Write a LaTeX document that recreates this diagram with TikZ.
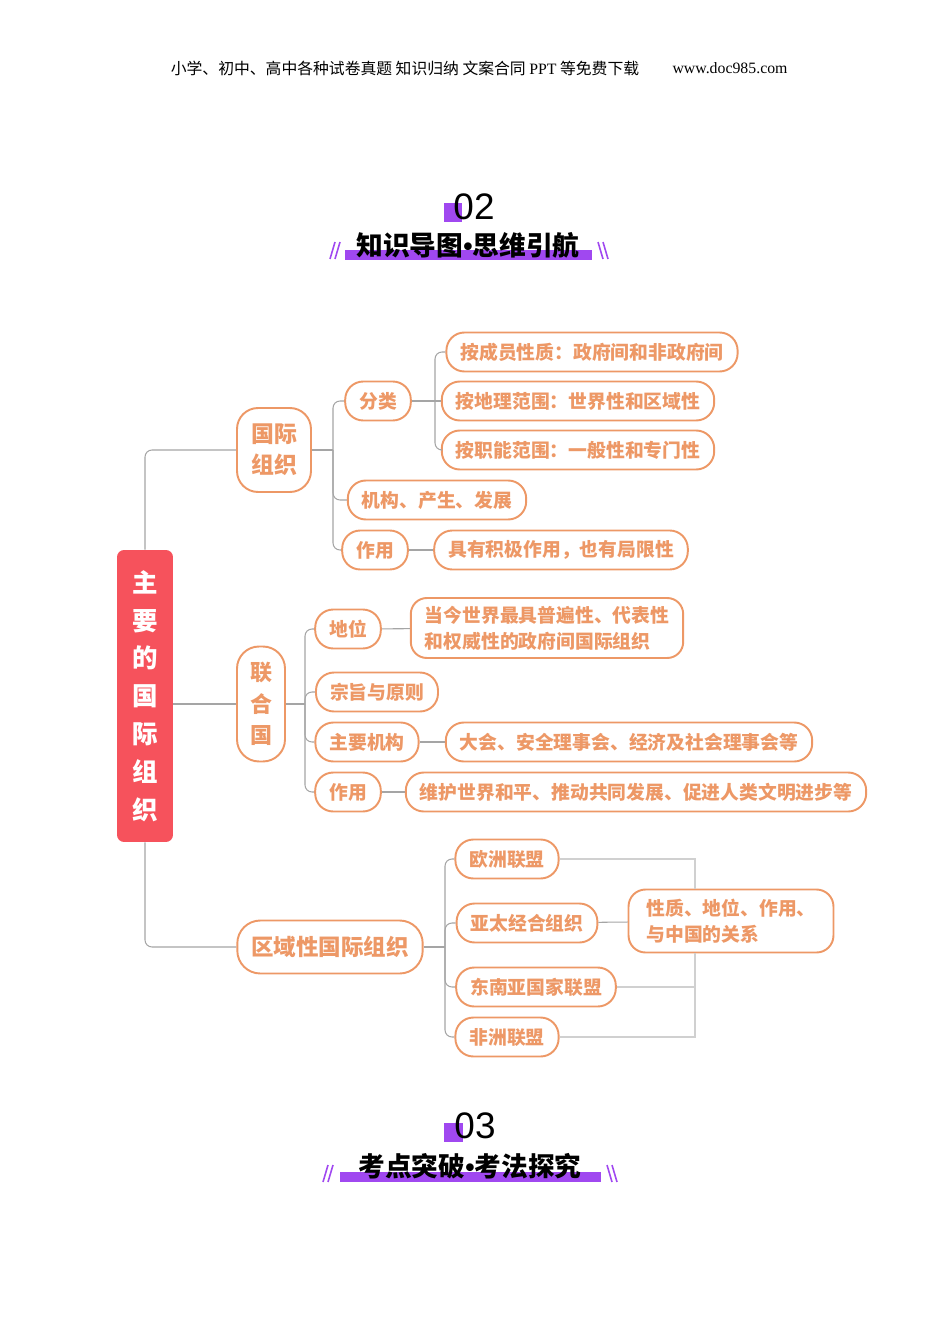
\documentclass[tikz,border=0pt]{standalone}
\usepackage{fontspec}
\setmainfont{Liberation Serif}
\newfontfamily\cjk{Noto Sans CJK SC}
\newfontfamily\digitfont{Liberation Sans}
\definecolor{mmorange}{RGB}{237,152,102}
\definecolor{mmred}{RGB}{246,82,92}
\definecolor{linkgray}{RGB}{165,165,165}
\definecolor{sumgray}{RGB}{208,208,208}
\definecolor{purp}{RGB}{160,72,240}
\tikzset{
  leaf/.style={draw=mmorange,line width=1.1pt,fill=white,text=mmorange,
    font=\cjk\bfseries\fontsize{10.7}{14.8}\selectfont,rounded corners=0.36cm,
    minimum height=0.78cm,inner xsep=0.28cm,inner ysep=0pt},
  branch/.style={leaf,font=\cjk\bfseries\fontsize{13}{17.6}\selectfont,align=center,
    inner sep=0pt,rounded corners=0.42cm},
  root/.style={fill=mmred,text=white,rounded corners=4pt,align=center,inner sep=0pt,
    minimum width=1.12cm,minimum height=5.84cm,
    font=\cjk\bfseries\fontsize{14.5}{21.5}\selectfont},
  link/.style={draw=linkgray,line width=0.6pt,rounded corners=4pt},
  sumlink/.style={draw=sumgray,line width=0.6pt},
  slash/.style={draw=purp,line width=0.9pt}
}
\begin{document}
\begin{tikzpicture}[x=0.02cm,y=-0.02cm]
\useasboundingbox (0,0) rectangle (950,1344);

% header line
\node[font=\cjk\fontsize{9}{9}\selectfont,inner sep=0] (hd) at (405,68)
  {小学、初中、高中各种试卷真题 知识归纳 文案合同 {\rmfamily PPT} 等免费下载};
\node[font=\rmfamily\fontsize{9}{9}\selectfont,inner sep=0] (url) at (730,68) {www.doc985.com};

% title 02
\fill[purp] (444,203) rectangle (462,222);
\node[font=\digitfont\fontsize{21}{21}\selectfont,inner sep=0] (n02) at (474,207) {02};
\fill[purp] (345,250) rectangle (592,260);
\node[font=\cjk\bfseries\fontsize{15.2}{15.2}\selectfont,inner sep=0] (t02) at (468,245)
  {知识导图{\digitfont\bfseries •}思维引航};
\draw[slash] (330,259) -- (335,242) (335,259) -- (340,242);
\draw[slash] (598,242) -- (603,259) (603,242) -- (608,259);

% root
\node[root] (root) at (145,696) {主\\要\\的\\国\\际\\组\\织};

% international organisations
\node[branch,minimum width=1.48cm,minimum height=1.68cm] (gj) at (274,450) {国际\\组织};
\node[leaf] (fl) at (378,401) {分类};
\node[leaf] (a1) at (592,352) {按成员性质：政府间和非政府间};
\node[leaf] (a2) at (578,401) {按地理范围：世界性和区域性};
\node[leaf] (a3) at (578,450) {按职能范围：一般性和专门性};
\node[leaf] (jg) at (437,500) {机构、产生、发展};
\node[leaf] (zy1) at (375,550) {作用};
\node[leaf] (jx1) at (561,550) {具有积极作用，也有局限性};

% united nations
\node[branch,font=\cjk\bfseries\fontsize{12.5}{18}\selectfont,
  minimum width=0.96cm,minimum height=2.3cm,rounded corners=0.44cm] (lhg) at (261,704) {联\\合\\国};
\node[leaf] (dw) at (348,629) {地位};
\node[leaf,align=left,minimum height=1.2cm,rounded corners=0.32cm] (dwt) at (547,628)
  {当今世界最具普遍性、代表性\\和权威性的政府间国际组织};
\node[leaf] (zz) at (377,692) {宗旨与原则};
\node[leaf] (jgo) at (367,742) {主要机构};
\node[leaf] (dh) at (629,742) {大会、安全理事会、经济及社会理事会等};
\node[leaf] (zy2) at (348,792) {作用};
\node[leaf] (wh) at (636,792) {维护世界和平、推动共同发展、促进人类文明进步等};

% regional organisations
\node[leaf,font=\cjk\bfseries\fontsize{12.8}{12.8}\selectfont,
  minimum height=1.06cm,rounded corners=0.46cm] (qy) at (330,947) {区域性国际组织};
\node[leaf] (om) at (507,859) {欧洲联盟};
\node[leaf] (yt) at (527,923) {亚太经合组织};
\node[leaf] (dn) at (536,987) {东南亚国家联盟};
\node[leaf] (fz) at (507,1037) {非洲联盟};
\node[leaf,align=left,minimum width=4.1cm,minimum height=1.26cm,rounded corners=0.34cm] (xz) at (731,921)
  {性质、地位、作用、\\与中国的关系};

% connectors
\draw[link] (root.north) |- (gj.west);
\draw[link] (root.east |- lhg.west) -- (lhg.west);
\draw[link] (root.south) |- (qy.west);

\coordinate (jgj) at (333,450);
\draw[link] (gj.east) -- (jgj);
\draw[link] (jgj) |- (fl.west);
\draw[link] (jgj) |- (jg.west);
\draw[link] (jgj) |- (zy1.west);
\coordinate (jfl) at (435,401);
\draw[link] (fl.east) -- (jfl);
\draw[link] (jfl) |- (a1.west);
\draw[link] (jfl) -- (a2.west);
\draw[link] (jfl) |- (a3.west);
\draw[link] (zy1) -- (jx1);

\coordinate (jlh) at (305,704);
\draw[link] (lhg.east) -- (jlh);
\draw[link] (jlh) |- (dw.west);
\draw[link] (jlh) |- (zz.west);
\draw[link] (jlh) |- (jgo.west);
\draw[link] (jlh) |- (zy2.west);
\draw[link] (dw) -- (dwt);
\draw[link] (jgo) -- (dh);
\draw[link] (zy2) -- (wh);

\coordinate (jqy) at (445,947);
\draw[link] (qy.east) -- (jqy);
\draw[link] (jqy) |- (om.west);
\draw[link] (jqy) |- (yt.west);
\draw[link] (jqy) |- (dn.west);
\draw[link] (jqy) |- (fz.west);
\draw[link] (yt) -- (xz);
\coordinate (jr) at (695,947);
\draw[sumlink] (om.east) -| (jr |- xz.north);
\draw[sumlink] (fz.east) -| (jr |- xz.south);
\draw[sumlink] (dn.east) -- (dn.east -| jr);

% title 03
\fill[purp] (444,1123) rectangle (463,1142);
\node[font=\digitfont\fontsize{21}{21}\selectfont,inner sep=0] (n03) at (475,1126) {03};
\fill[purp] (340,1172) rectangle (601,1182);
\node[font=\cjk\bfseries\fontsize{15.2}{15.2}\selectfont,inner sep=0] (t03) at (470,1166)
  {考点突破{\digitfont\bfseries •}考法探究};
\draw[slash] (323,1182) -- (328,1165) (328,1182) -- (333,1165);
\draw[slash] (607,1165) -- (612,1182) (612,1165) -- (617,1182);
\end{tikzpicture}
\end{document}
